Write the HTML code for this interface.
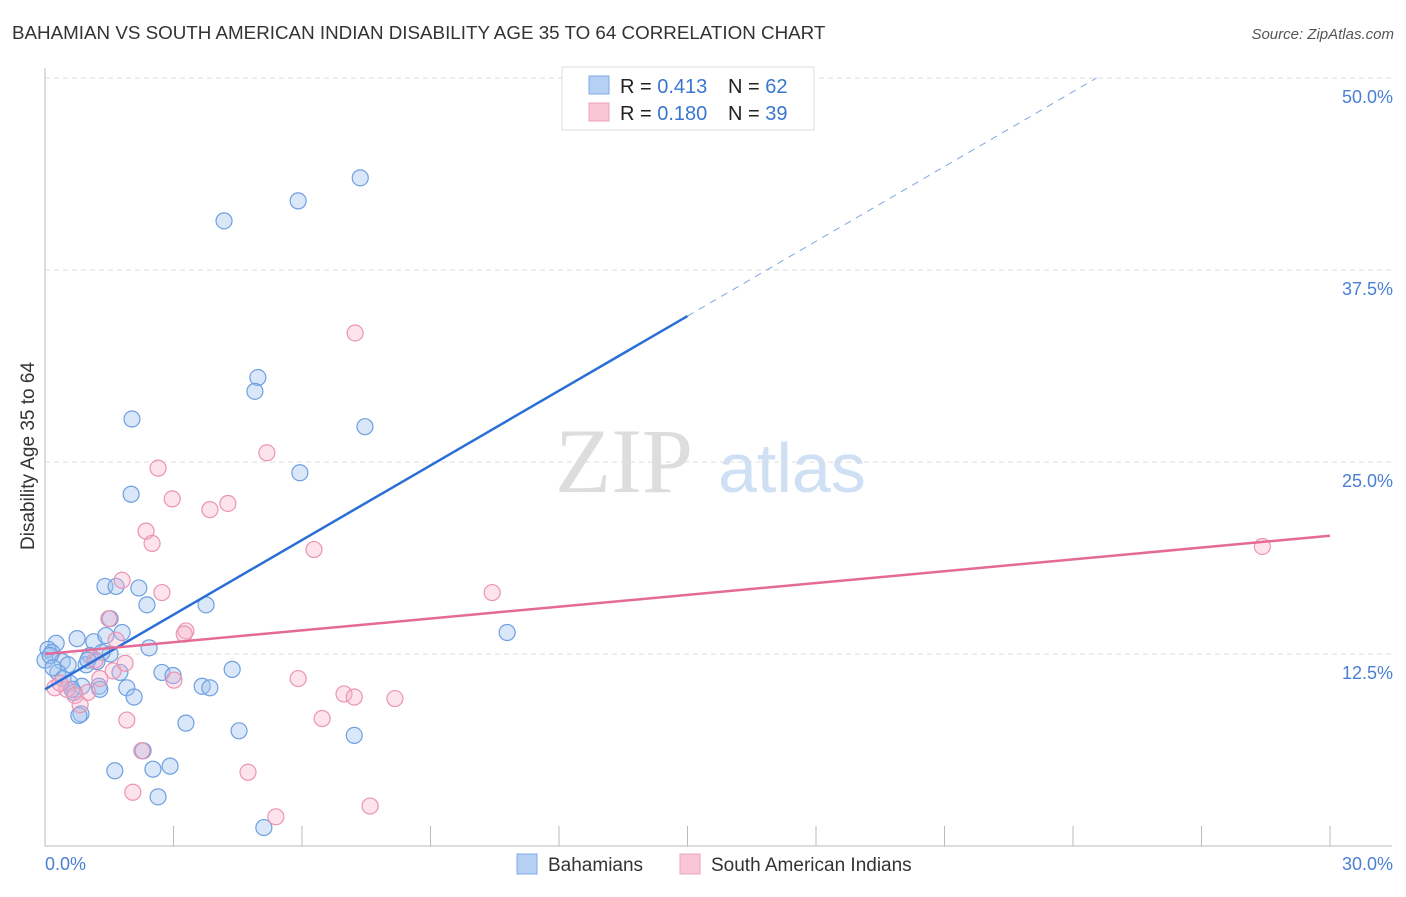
<!DOCTYPE html>
<html><head><meta charset="utf-8"><style>
body{margin:0;background:#fff;font-family:"Liberation Sans",sans-serif;}
</style></head><body>
<svg id="c" width="1406" height="892" xmlns="http://www.w3.org/2000/svg" style="font-family:'Liberation Sans',sans-serif">
<text x="12" y="39" font-size="18.8" fill="#333">BAHAMIAN VS SOUTH AMERICAN INDIAN DISABILITY AGE 35 TO 64 CORRELATION CHART</text>
<text x="1394" y="39" font-size="15" fill="#555" font-style="italic" text-anchor="end">Source: ZipAtlas.com</text>
<text x="555" y="492" font-size="92" fill="#ddd" font-family="Liberation Serif,serif">ZIP</text>
<text x="718" y="492" font-size="70" fill="#cfe0f5">atlas</text>
<g id="grid"></g><g id="axes"></g><g id="pts"></g><g id="lines"></g>
<text x="34" y="456" font-size="19" fill="#333" text-anchor="middle" transform="rotate(-90 34 456)">Disability Age 35 to 64</text>
<g>
<rect x="562" y="67" width="252" height="63" fill="#fff" stroke="#ddd"/>
<rect x="589" y="76" width="20" height="18" fill="#b5d0f3" stroke="#7eaae6"/>
<rect x="589" y="103" width="20" height="18" fill="#f9c6d6" stroke="#eda3bc"/>
<text x="620" y="93" font-size="20" fill="#222">R = <tspan fill="#3a76d0">0.413</tspan><tspan x="728">N = </tspan><tspan fill="#3a76d0">62</tspan></text>
<text x="620" y="120" font-size="20" fill="#222">R = <tspan fill="#3a76d0">0.180</tspan><tspan x="728">N = </tspan><tspan fill="#3a76d0">39</tspan></text>
</g>
<g>
<rect x="517" y="854" width="20" height="20" fill="#b5d0f3" stroke="#7eaae6"/>
<text x="548" y="871" font-size="19" fill="#333">Bahamians</text>
<rect x="680" y="854" width="20" height="20" fill="#f9c6d6" stroke="#eda3bc"/>
<text x="711" y="871" font-size="19" fill="#333">South American Indians</text>
</g>
</svg>
<script>
const blueX=[7.36,5.91,4.18,4.97,4.90,2.03,7.47,5.95,2.01,1.40,1.66,2.19,2.38,3.76,1.52,1.80,0.75,0.26,1.14,1.42,0.07,0.16,2.43,1.52,1.05,1.33,0.40,0.54,0.96,1.21,1.75,2.73,2.99,4.37,0.30,0.42,0.58,0.86,1.26,1.91,3.67,3.85,0.68,1.28,2.08,0.84,0.79,3.29,4.53,7.22,2.29,1.63,2.52,2.92,2.64,5.11,10.79,0.0,0.12,0.19,1.00,0.63];
const blueY=[43.5,42.0,40.7,30.5,29.6,27.8,27.3,24.3,22.9,16.9,16.9,16.8,15.7,15.7,14.8,13.9,13.5,13.2,13.3,13.7,12.8,12.6,12.9,12.5,12.4,12.6,12.0,11.8,11.8,12.0,11.3,11.3,11.1,11.5,11.3,10.9,10.6,10.4,10.4,10.3,10.4,10.3,10.0,10.2,9.7,8.6,8.5,8.0,7.5,7.2,6.2,4.9,5.0,5.2,3.2,1.2,13.9,12.1,12.4,11.6,12.1,10.2];
const pinkX=[7.24,5.18,2.64,2.97,4.27,3.85,2.36,2.50,6.28,1.80,2.73,10.44,1.49,1.66,3.29,3.25,3.01,5.91,1.59,1.87,0.23,0.51,1.00,0.70,6.98,7.22,8.17,0.82,6.47,1.91,2.26,4.74,2.05,7.59,5.39,28.42,1.28,0.35,1.17];
const pinkY=[33.4,25.6,24.6,22.6,22.3,21.9,20.5,19.7,19.3,17.3,16.5,16.5,14.8,13.4,14.0,13.8,10.8,10.9,11.4,11.9,10.3,10.2,10.0,9.8,9.9,9.7,9.6,9.2,8.3,8.2,6.2,4.8,3.5,2.6,1.9,19.5,10.9,10.6,12.1];
const yTicks=[12.5,25,37.5,50];
const yTickLabels=["12.5%","25.0%","37.5%","50.0%"];
const xTicks=[0,3,6,9,12,15,18,21,24,27,30];
const blueTrend=[[0,10.2],[15,34.5]];
const blueDash=[[15,34.5],[24.55,50]];
const pinkTrend=[[0,12.5],[30,20.2]];
const X=v=>45+v/30*1285, Y=v=>846-v/12.5*192;
const NS="http://www.w3.org/2000/svg";
function mk(p,t,a){const e=document.createElementNS(NS,t);for(const k in a)e.setAttribute(k,a[k]);document.getElementById(p).appendChild(e);return e;}
yTicks.forEach((t,i)=>{
 const g=mk('grid','line',{x1:45,x2:1392,y1:Y(t),y2:Y(t),stroke:'#ddd','stroke-dasharray':'5,4'});
 
 
 const l=mk('axes','text',{x:1393,y:Y(t)+25,'font-size':18,fill:'#4a7fd4','text-anchor':'end'});
 l.textContent=yTickLabels[i];
 
 
});
const ax=mk('axes','line',{x1:45,x2:1392,y1:846,y2:846,stroke:'#bbb'});


const ay=mk('axes','line',{x1:45,x2:45,y1:68,y2:846,stroke:'#bbb'});


xTicks.forEach(t=>{const k=mk('axes','line',{x1:X(t),x2:X(t),y1:826,y2:846,stroke:'#bbb'});
 
 });
const x0=mk('axes','text',{x:45,y:870,'font-size':18,fill:'#4a7fd4'});x0.textContent='0.0%';


const x1=mk('axes','text',{x:1393,y:870,'font-size':18,fill:'#4a7fd4','text-anchor':'end'});x1.textContent='30.0%';


blueX.forEach((v,i)=>{const c=mk('pts','circle',{cx:X(v),cy:Y(blueY[i]),r:8,fill:'rgba(160,196,240,0.4)',stroke:'#6e9fe0','stroke-width':1.2});
 
 });
pinkX.forEach((v,i)=>{const c=mk('pts','circle',{cx:X(v),cy:Y(pinkY[i]),r:8,fill:'rgba(246,175,200,0.35)',stroke:'#eb94b3','stroke-width':1.2});
 
 });
function ln(d,col,w,dash,name){const e=mk('lines','line',{x1:X(d[0][0]),y1:Y(d[0][1]),x2:X(d[1][0]),y2:Y(d[1][1]),stroke:col,'stroke-width':w});if(dash)e.setAttribute('stroke-dasharray',dash);
 
 }
ln(blueTrend,'#2a6fd6',2.5,null,'bahamian-trendline');
ln(blueDash,'#7ea6e0',1,'7,6','bahamian-trendline-extension');
ln(pinkTrend,'#e56a98',2.5,null,'south-american-indian-trendline');
</script>
</body></html>
